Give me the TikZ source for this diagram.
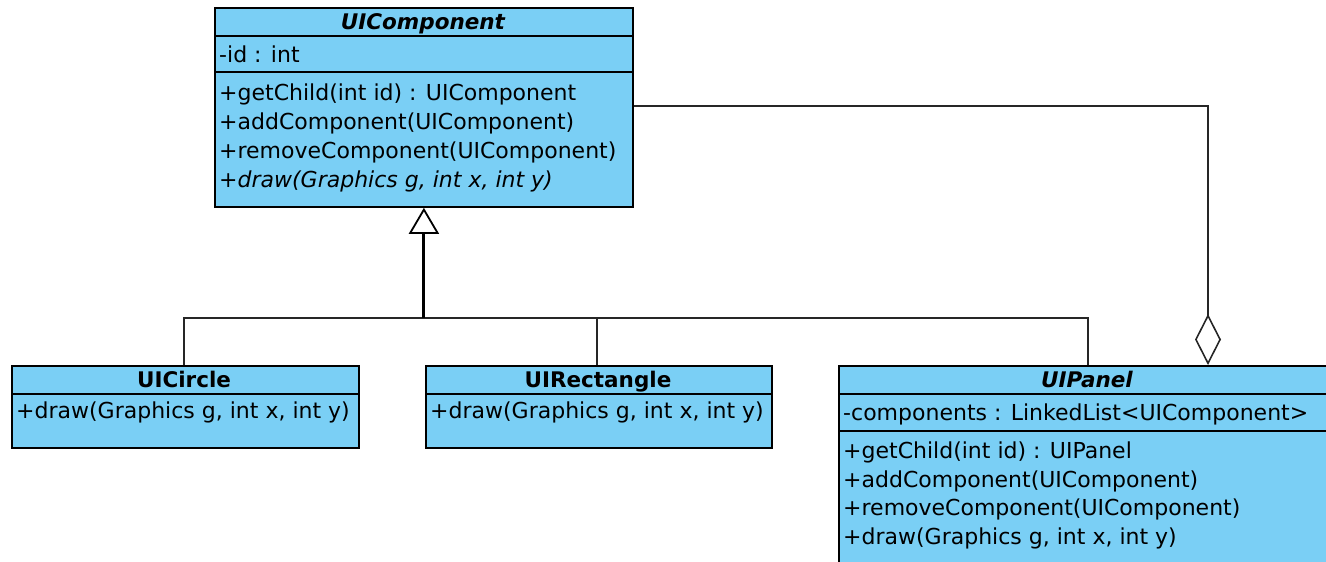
\documentclass[tikz,border=0pt]{standalone}
\usepackage{fontspec}
\setmainfont{DejaVu Sans}
\usetikzlibrary{arrows.meta,calc}
\definecolor{umlfill}{RGB}{122,207,245}
\begin{document}
\begin{tikzpicture}[x=1pt,y=-1pt,
  classbox/.style={draw=black,fill=umlfill,line width=1.8pt,rectangle,inner sep=0pt,anchor=north west},
  sepline/.style={line width=1.5pt},
  member/.style={anchor=base west,inner sep=0pt,font=\fontsize{22}{26}\selectfont},
  cname/.style={anchor=base,inner sep=0pt,font=\fontsize{21.5}{26}\selectfont\bfseries},
  link/.style={line width=1.6pt,draw=black!85},
]
\useasboundingbox (0,0) rectangle (1326,562);
\clip (0,0) rectangle (1326,562);

% ---- UIComponent (abstract) ----
\node[classbox,minimum width=418pt,minimum height=199pt] (comp) at (214,7) {};
\draw[sepline] (214,36) -- (632,36);
\draw[sepline] (214,72) -- (632,72);
\node[cname,font=\fontsize{21.5}{26}\selectfont\bfseries\itshape] (compT) at (423,29.5) {UIComponent};
\node[member] (compA) at (219,62) {-id : int};
\node[member] (compM1) at (219,100) {+getChild(int id) : UIComponent};
\node[member] (compM2) at (219,129) {+addComponent(UIComponent)};
\node[member] (compM3) at (219,158) {+removeComponent(UIComponent)};
\node[member,font=\fontsize{22}{26}\selectfont\itshape] (compM4) at (219,187) {+draw(Graphics g, int x, int y)};

% ---- UICircle ----
\node[classbox,minimum width=347pt,minimum height=82pt] (circ) at (11,365) {};
\draw[sepline] (11,394) -- (358,394);
\node[cname] (circT) at (184,387.5) {UICircle};
\node[member] (circM) at (16,418) {+draw(Graphics g, int x, int y)};

% ---- UIRectangle ----
\node[classbox,minimum width=346pt,minimum height=82pt] (rect) at (425,365) {};
\draw[sepline] (425,394) -- (771,394);
\node[cname] (rectT) at (598,387.5) {UIRectangle};
\node[member] (rectM) at (430,418) {+draw(Graphics g, int x, int y)};

% ---- UIPanel (abstract) ----
\node[classbox,minimum width=498pt,minimum height=230pt] (panel) at (838,365) {};
\draw[sepline] (838,394) -- (1336,394);
\draw[sepline] (838,431) -- (1336,431);
\node[cname,font=\fontsize{21.5}{26}\selectfont\bfseries\itshape] (panelT) at (1087,387.5) {UIPanel};
\node[member] (panelA) at (843,420) {-components : LinkedList<UIComponent>};
\node[member] (panelM1) at (843,458) {+getChild(int id) : UIPanel};
\node[member] (panelM2) at (843,487) {+addComponent(UIComponent)};
\node[member] (panelM3) at (843,515) {+removeComponent(UIComponent)};
\node[member] (panelM4) at (843,544) {+draw(Graphics g, int x, int y)};

% ---- generalization: subclasses to UIComponent ----
\coordinate (bus) at (comp.south |- 0,318);
\draw[link] (circ.north -| 184,0) |- (bus);
\draw[link] (rect.north -| 597,0) |- (bus);
\draw[link] (panel.north) |- (bus);
\draw[line width=3pt,-{Triangle[open,length=26pt,width=30pt,line width=1.8pt]}] (bus) -- (comp.south);

% ---- aggregation: UIPanel holds UIComponents ----
\coordinate (aggStart) at (comp.east |- 0,106);
\coordinate (aggEnd) at (1208,365);
\draw[link,-{Diamond[open,length=51pt,width=26pt,line width=1.6pt]}] (aggStart) -| (aggEnd);
\end{tikzpicture}
\end{document}
